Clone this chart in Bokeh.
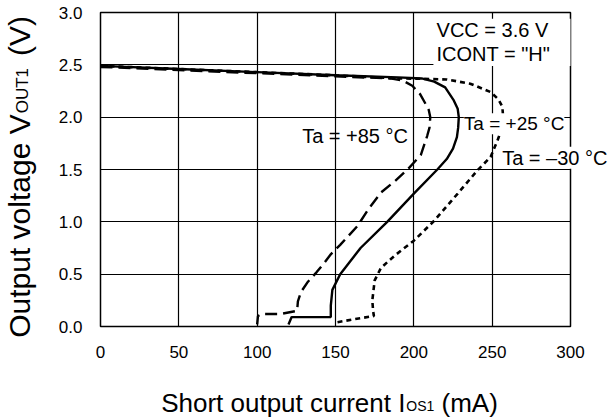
import math
from bokeh.plotting import figure
from bokeh.models import Label, Range1d, FixedTicker, PrintfTickFormatter, BoxAnnotation
from bokeh.embed import file_html
from bokeh.resources import INLINE

# ---- data ----
x_ticks = [0, 50, 100, 150, 200, 250, 300]
y_ticks = [0.0, 0.5, 1.0, 1.5, 2.0, 2.5, 3.0]

# Ta = +25 degC (solid)
i_25 = [0, 50, 100, 150, 190, 205, 213, 220, 225.5, 228, 228.7, 228.3, 227.5, 225, 221, 215,
        200, 183, 166, 153, 148, 147, 147, 122, 120]
v_25 = [2.49, 2.46, 2.43, 2.40, 2.38, 2.37, 2.34, 2.285, 2.16, 2.08, 2.00, 1.90, 1.81, 1.70, 1.60, 1.50,
        1.27, 1.00, 0.75, 0.50, 0.35, 0.20, 0.09, 0.09, 0.02]

# Ta = +85 degC (dashed)
i_85 = [0, 50, 100, 150, 185, 193, 199, 204, 207, 209.5, 210.5, 210, 208.5, 204.5, 196, 188, 179, 171,
        164, 153, 147, 143, 138, 132, 128, 126, 125.5, 115, 103, 100.5, 100]
v_85 = [2.48, 2.45, 2.42, 2.39, 2.37, 2.35, 2.30, 2.22, 2.14, 2.07, 2.00, 1.90, 1.82, 1.64, 1.50, 1.39, 1.28, 1.12,
        0.96, 0.78, 0.69, 0.61, 0.52, 0.42, 0.33, 0.24, 0.15, 0.12, 0.12, 0.10, 0.02]

# Ta = -30 degC (dotted)
i_m30 = [0, 50, 100, 150, 190, 210, 221, 236, 249, 254, 256.5, 257, 256, 254, 249, 240.5, 228, 213, 200,
         188, 179, 175, 173.5, 174, 174.5, 162, 151]
v_m30 = [2.49, 2.46, 2.43, 2.40, 2.37, 2.365, 2.36, 2.32, 2.24, 2.17, 2.10, 2.00, 1.90, 1.80, 1.62, 1.49, 1.27, 1.01, 0.82,
         0.68, 0.56, 0.44, 0.25, 0.15, 0.10, 0.07, 0.04]

FONT = "Liberation Sans"
NB = "\u00a0"

p = figure(width=613, height=419, x_range=Range1d(0, 300), y_range=Range1d(0, 3),
           output_backend="svg", toolbar_location=None,
           min_border_left=100, min_border_right=43, min_border_top=12, min_border_bottom=93)

p.background_fill_color = "white"
p.border_fill_color = "white"
p.outline_line_color = "black"
p.outline_line_width = 1.5

for ax in (p.xaxis[0], p.yaxis[0]):
    ax.axis_line_color = None
    ax.major_tick_line_color = None
    ax.minor_tick_line_color = None
    ax.major_label_text_font = FONT
    ax.major_label_text_font_size = "17px"
    ax.major_label_text_color = "black"
    ax.axis_label = None

p.xaxis.ticker = FixedTicker(ticks=x_ticks)
p.yaxis.ticker = FixedTicker(ticks=y_ticks)
p.yaxis.formatter = PrintfTickFormatter(format="%.1f")
p.xaxis.major_label_standoff = 13
p.yaxis.major_label_standoff = 12

p.xgrid.ticker = FixedTicker(ticks=x_ticks)
p.ygrid.ticker = FixedTicker(ticks=y_ticks)
for g in (p.xgrid[0], p.ygrid[0]):
    g.grid_line_color = "black"
    g.grid_line_width = 1.2
    g.grid_line_alpha = 1.0

p.line(i_m30, v_m30, line_color="black", line_width=2.6, line_dash="5 4")
p.line(i_85, v_85, line_color="black", line_width=2.4, line_dash="12 6")
p.line(i_25, v_25, line_color="black", line_width=2.4)

# white box behind the conditions text
p.add_layout(BoxAnnotation(left=212.5, right=303, bottom=2.49, top=2.94,
                           fill_color="white", fill_alpha=1.0, line_color=None))

def lab(x, y, t, size=20, bg=False, place="center"):
    kw = {}
    if bg:
        kw = dict(background_fill_color="white", background_fill_alpha=1.0)
    p.add_layout(Label(x=x, y=y, text=t, text_font=FONT, text_font_size=f"{size}px",
                       text_color="black", text_align="left", text_baseline="middle",
                       **kw), place)

lab(214.5, 2.837, "VCC = 3.6 V")
lab(214.5, 2.607, "ICONT = \"H\"")
lab(231.9, 1.938, "Ta = +25 \u00b0C", size=19, bg=True)
lab(128.7, 1.823, "Ta = +85 \u00b0C")
# label that reaches past the frame: kept in an outer panel so it is not clipped
lab(256.4, 1.613, "Ta = \u201330 \u00b0C", bg=True, place="below")

def title_piece(x, y, t, size, xo=0, yo=0, angle=0, place="below"):
    p.add_layout(Label(x=x, y=y, text=t, text_font=FONT, text_font_size=f"{size}px",
                       text_color="black", text_align="left", text_baseline="alphabetic",
                       x_offset=xo, y_offset=yo, angle=angle), place)

SUB_DROP = 2.2  # px, puts the small caps on the main baseline

# x axis title with small-caps subscript
XS, XB = 38.7, -0.735
F1, F2 = 26, 14
w1 = 9.394 * F1          # width of "Short output current I"
gap_x = 5                # NBSPs reserved for the subscript + space
title_piece(XS, XB, "Short output current I" + NB * gap_x + "(mA)", F1)
title_piece(XS, XB, "OS1", F2, xo=w1 + 1, yo=-SUB_DROP, place="right")

# y axis title with small-caps subscript (rotated)
YX, YS = -51.5, -0.108
G1, G2 = 30, 17
h1 = 7.449 * G1          # length of "Output voltage V"
gap_y = 7
title_piece(YX, YS, "Output voltage V" + NB * gap_y + "(V)", G1, angle=math.pi / 2, place="left")
title_piece(YX, YS, "OUT1", G2, xo=SUB_DROP, yo=h1 + 1, angle=math.pi / 2, place="left")

open("out.html", "w").write(file_html(p, INLINE))
